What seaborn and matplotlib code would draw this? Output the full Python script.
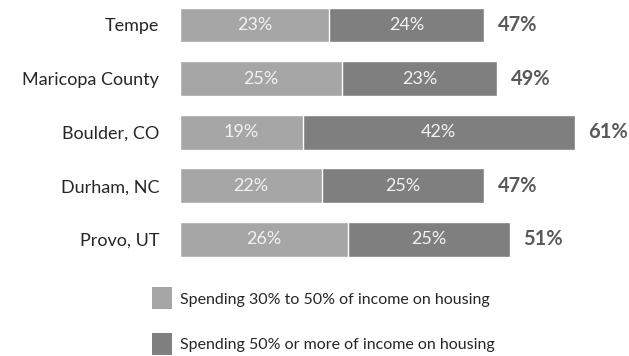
import matplotlib
matplotlib.use("Agg")
import matplotlib.pyplot as plt
import seaborn as sns
import pandas as pd
from matplotlib.patches import Patch

places = ["Tempe", "Maricopa County", "Boulder, CO", "Durham, NC", "Provo, UT"]
moderate = [23, 25, 19, 22, 26]   # spending 30% to 50% of income on housing
severe = [24, 23, 42, 25, 25]     # spending 50% or more of income on housing
totals = [47, 49, 61, 47, 51]
legend_labels = ["Spending 30% to 50% of income on housing",
                 "Spending 50% or more of income on housing"]

light = "#a6a6a6"
dark = "#7f7f7f"

df = pd.DataFrame({"place": places, "moderate": moderate,
                   "severe": severe, "total": totals})

sns.set_theme(style="white")
plt.rcParams["font.family"] = ["Lato", "DejaVu Sans"]

fig = plt.figure(figsize=(6.29, 3.56), dpi=100)
ax = fig.add_axes([180 / 629, 1 - 265 / 356, 449 / 629, 265 / 356])

# total length in dark, first segment in light over it
sns.barplot(data=df, y="place", x="total", color=dark, orient="h",
            width=0.65, saturation=1, ax=ax)
sns.barplot(data=df, y="place", x="moderate", color=light, orient="h",
            width=0.65, saturation=1, ax=ax)

ax.set_xlim(0, 449 / 6.47)
ax.set_ylim(4.478, -0.466)
ax.set_xlabel("")
ax.set_ylabel("")
ax.set_xticks([])
ax.tick_params(axis="y", length=0, pad=15, labelsize=13, labelcolor="#262626")
sns.despine(ax=ax, left=True, bottom=True)

for i, (m, s, t) in enumerate(zip(moderate, severe, totals)):
    ax.text(m / 2, i, f"{m}%", ha="center", va="center",
            color="#f2f2f2", fontsize=13)
    ax.text((m + t) / 2, i, f"{s}%", ha="center", va="center",
            color="#f2f2f2", fontsize=13)
    ax.text(t + 2.1, i, f"{t}%", ha="left", va="center",
            color="#595959", fontsize=14.5, fontweight="bold")

handles = [Patch(facecolor=light, edgecolor="none"),
           Patch(facecolor=dark, edgecolor="none")]
fig.legend(handles, legend_labels, loc="upper left",
           bbox_to_anchor=(138 / 629, 1 - 273 / 356), frameon=False,
           handlelength=1.2, handleheight=1.75, handletextpad=0.5,
           labelspacing=1.45, fontsize=11.5, labelcolor="#262626")

fig.savefig("out.png", dpi=100)
